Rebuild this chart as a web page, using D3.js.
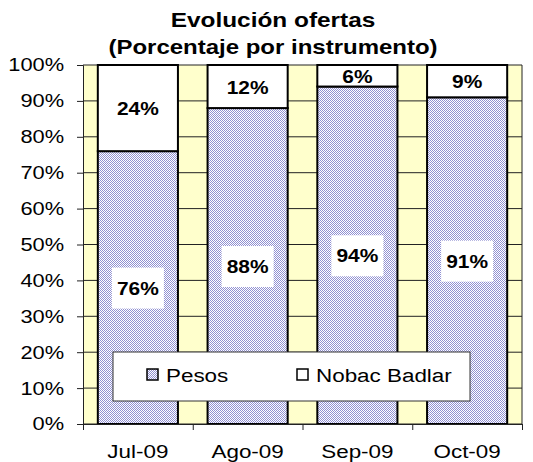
<!DOCTYPE html>
<html>
<head>
<meta charset="utf-8">
<script src="https://cdn.jsdelivr.net/npm/d3@7"></script>
<style>
  body { margin: 0; background: #fff; }
  text { font-family: Arial, "Liberation Sans", sans-serif; fill: #000; }
</style>
</head>
<body>
<svg id="viz"></svg>
<script>
// chart values
var categories = ['Jul-09', 'Ago-09', 'Sep-09', 'Oct-09'];
var pesos = [76, 88, 94, 91];
var nobac = [24, 12, 6, 9];
var seriesNames = ['Pesos', 'Nobac Badlar'];
var yTicks = [0, 10, 20, 30, 40, 50, 60, 70, 80, 90, 100];

var width = 533, height = 462;
var sx = 1.18; // text in the picture is a bit wider than normal
var margin = { left: 83, right: 11, top: 65, bottom: 38 };

var svg = d3.select('#viz').attr('width', width).attr('height', height);

// fine dotted fill for the Pesos series
var defs = svg.append('defs');
var pat = defs.append('pattern')
  .attr('id', 'dots')
  .attr('width', 2).attr('height', 2)
  .attr('patternUnits', 'userSpaceOnUse');
pat.append('rect').attr('width', 2).attr('height', 2).attr('fill', '#fff');
pat.append('rect').attr('x', 0).attr('y', 0).attr('width', 1).attr('height', 1).attr('fill', '#9090d2');
pat.append('rect').attr('x', 1).attr('y', 1).attr('width', 1).attr('height', 1).attr('fill', '#9090d2');
var fills = ['url(#dots)', '#ffffff'];

var x = d3.scaleBand()
  .domain(categories)
  .range([margin.left, width - margin.right])
  .paddingInner(0.27)
  .paddingOuter(0.135);
var xEdge = d3.scaleLinear().domain([0, categories.length]).range([margin.left, width - margin.right]);
var y = d3.scaleLinear().domain([0, 100]).range([height - margin.bottom, margin.top]);

// plot area
svg.append('rect')
  .attr('x', margin.left).attr('y', y(100))
  .attr('width', width - margin.right - margin.left)
  .attr('height', y(0) - y(100))
  .attr('fill', '#ffffcc');

// gridlines
svg.append('g')
  .selectAll('line')
  .data(yTicks)
  .join('line')
  .attr('x1', margin.left).attr('x2', width - margin.right)
  .attr('y1', (d) => y(d)).attr('y2', (d) => y(d))
  .attr('stroke', '#222').attr('stroke-width', 1);

svg.append('line')
  .attr('x1', width - margin.right).attr('x2', width - margin.right)
  .attr('y1', y(0)).attr('y2', y(100))
  .attr('stroke', '#222');

// stacked bars
var rows = categories.map(function (c, i) {
  return { cat: c, Pesos: pesos[i], 'Nobac Badlar': nobac[i] };
});
var stack = d3.stack().keys(seriesNames)(rows);

svg.append('g')
  .selectAll('g')
  .data(stack)
  .join('g')
  .attr('fill', (d, i) => fills[i])
  .selectAll('rect')
  .data((d) => d)
  .join('rect')
  .attr('x', (d) => x(d.data.cat))
  .attr('y', (d) => y(d[1]))
  .attr('width', x.bandwidth())
  .attr('height', (d) => y(d[0]) - y(d[1]))
  .attr('stroke', '#000')
  .attr('stroke-width', 2);

// value labels
stack.forEach(function (s, si) {
  s.forEach(function (d) {
    var cx = x(d.data.cat) + x.bandwidth() / 2;
    var cy = (y(d[0]) + y(d[1])) / 2;
    if (si == 0) {
      svg.append('rect')
        .attr('x', cx - 26).attr('y', cy - 20)
        .attr('width', 52).attr('height', 41)
        .attr('fill', '#fff');
    }
    svg.append('text')
      .attr('transform', 'translate(' + cx + ',' + (cy + 7) + ') scale(' + 1.1 + ',1)')
      .attr('text-anchor', 'middle')
      .style('font-size', '19px')
      .style('font-weight', 'bold')
      .text(d[1] - d[0] + '%');
  });
});

// y axis
var yAxis = svg.append('g')
  .attr('transform', 'translate(' + margin.left + ',0)')
  .call(d3.axisLeft(y).tickValues(yTicks).tickSize(6).tickPadding(10).tickFormat((d) => d + '%'));
yAxis.selectAll('path, line').attr('stroke', '#222');
yAxis.selectAll('text')
  .style('font-size', '18.5px')
  .attr('font-family', null)
  .attr('transform', 'scale(' + sx + ',1)');

// x axis: ticks on the category edges, labels in the middle
var xAxis = svg.append('g')
  .attr('transform', 'translate(0,' + y(0) + ')')
  .call(d3.axisBottom(xEdge).ticks(categories.length).tickSize(6).tickFormat(''));
xAxis.selectAll('path, line').attr('stroke', '#222');

svg.append('g')
  .selectAll('text')
  .data(categories)
  .join('text')
  .attr('transform', (d) => 'translate(' + (x(d) + x.bandwidth() / 2) + ',' + (y(0) + 34) + ') scale(' + sx + ',1)')
  .attr('text-anchor', 'middle')
  .style('font-size', '19px')
  .text((d) => d);

// title
svg.append('text')
  .attr('transform', 'translate(273,27) scale(1.22,1)')
  .attr('text-anchor', 'middle')
  .style('font-size', '20px')
  .style('font-weight', 'bold')
  .text('Evolución ofertas');
svg.append('text')
  .attr('transform', 'translate(273,54) scale(1.2,1)')
  .attr('text-anchor', 'middle')
  .style('font-size', '20px')
  .style('font-weight', 'bold')
  .text('(Porcentaje por instrumento)');

// legend
var legend = svg.append('g').attr('transform', 'translate(113,352)');
legend.append('rect')
  .attr('width', 357).attr('height', 49)
  .attr('fill', '#fff')
  .attr('stroke', '#333').attr('stroke-width', 1);
var legX = [34, 184];
seriesNames.forEach(function (name, i) {
  legend.append('rect')
    .attr('x', legX[i]).attr('y', 17)
    .attr('width', 11).attr('height', 11)
    .attr('fill', fills[i])
    .attr('stroke', '#000').attr('stroke-width', 1.5);
  legend.append('text')
    .attr('transform', 'translate(' + (legX[i] + 19) + ',30) scale(' + sx + ',1)')
    .style('font-size', '19px')
    .text(name);
});
</script>
</body>
</html>
